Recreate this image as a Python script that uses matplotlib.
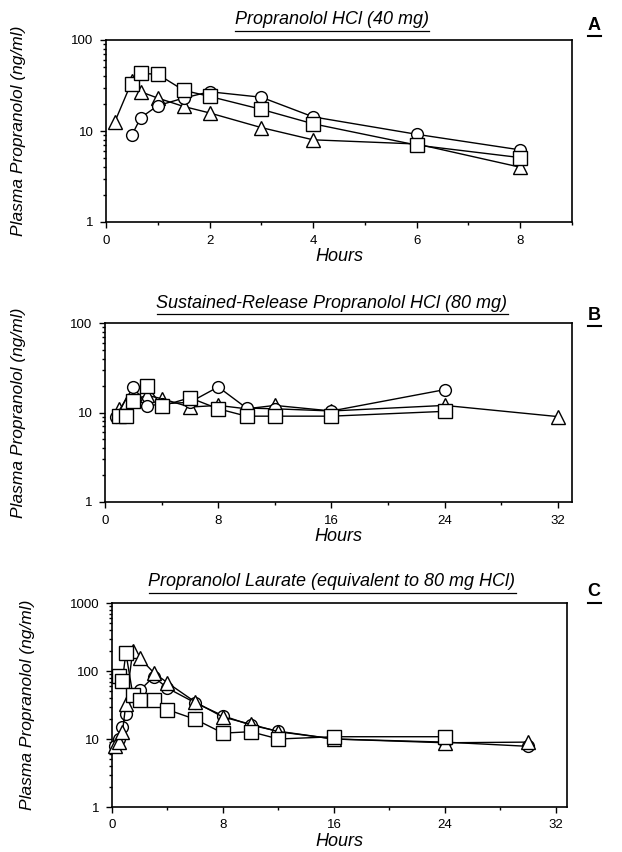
import matplotlib
matplotlib.use("Agg")
import matplotlib.pyplot as plt
from matplotlib.lines import Line2D
from matplotlib.ticker import LogLocator, FixedLocator, MultipleLocator, FuncFormatter

plt.rcParams['font.family'] = ['Liberation Sans', 'DejaVu Sans']

## Data (hours, ng/ml)
# A) Propranolol HCl 40 mg
a_circ_t = [0.5, 0.67, 1, 1.5, 2, 3, 4, 6, 8]
a_circ = [9.0, 14, 19, 23, 27, 23.5, 14.3, 9.2, 6.2]
a_sq_t = [0.5, 0.67, 1, 1.5, 2, 3, 4, 6, 8]
a_sq = [33, 43, 42, 28, 24, 17.3, 12, 7.0, 5.1]
a_tri_t = [0.17, 0.5, 0.67, 1, 1.5, 2, 3, 4, 6, 8]
a_tri = [12.6, 35, 27, 23, 18.6, 15.8, 10.9, 8.0, 7.2, 4.0]

# B) Sustained-release HCl 80 mg
b_circ_t = [0.75, 2, 3, 4, 6, 8, 10, 12, 16, 24]
b_circ = [9.0, 19.3, 11.8, 12.5, 13, 19.3, 11.2, 11, 10.4, 18]
b_sq_t = [1, 1.5, 2, 3, 4, 6, 8, 10, 12, 16, 24]
b_sq = [9.2, 9.2, 13.3, 19.7, 11.8, 14.6, 11, 9.1, 9.1, 9.1, 10.3]
b_tri_t = [1, 1.5, 2, 3, 4, 6, 8, 10, 12, 16, 24, 32]
b_tri = [11, 12.5, 14, 15.5, 14.3, 11.5, 12, 11, 12, 10.4, 12, 9.0]

# C) Laurate, equivalent to 80 mg HCl
c_circ_t = [0.25, 0.5, 0.75, 1, 1.5, 2, 3, 4, 6, 8, 10, 12, 16, 24, 30]
c_circ = [8.0, 10, 15, 23, 45, 52, 82, 56, 34, 22, 16, 13, 10, 9, 7.8]
c_tri_t = [0.25, 0.5, 0.75, 1, 1.5, 2, 3, 4, 6, 8, 10, 12, 16, 24, 30]
c_tri = [8.0, 9.0, 12.5, 33, 200, 155, 95, 67, 35, 21, 16.5, 12.8, 10, 8.8, 9.0]
c_sq_t = [0.5, 0.75, 1, 1.5, 2, 3, 4, 6, 8, 10, 12, 16, 24]
c_sq = [85, 72, 185, 45, 37, 37, 27, 19.5, 12.2, 12.8, 10, 10.8, 10.8]

titles = ["Propranolol HCl (40 mg)",
          "Sustained-Release Propranolol HCl (80 mg)",
          "Propranolol Laurate (equivalent to 80 mg HCl)"]
letters = ["A", "B", "C"]
x_ticks = [[0, 2, 4, 6, 8], [0, 8, 16, 24, 32], [0, 8, 16, 24, 32]]
x_lims = [(0, 9), (0, 33), (0, 32.8)]
y_lims = [(1, 100), (1, 100), (1, 1000)]

W, H = 622, 852
fig = plt.figure(figsize=(W / 100, H / 100), dpi=100)

# axes boxes in pixels: left, top, right, bottom
boxes = [(106, 40, 572, 222), (105, 323, 572, 502), (112, 603, 567, 807)]
title_y = [20, 303, 582]
letter_y = [25, 315, 592]
ylabel_x = [26, 26, 35]


def add_axes_px(l, t, r, b):
    return fig.add_axes([l / W, 1 - b / H, (r - l) / W, (b - t) / H])


def underline(txt, lw=0.9, pad=2):
    # draw a line under a figure text, using its rendered extent
    fig.canvas.draw()
    bb = txt.get_window_extent()
    y = (bb.y0 - pad) / H
    fig.add_artist(Line2D([bb.x0 / W, bb.x1 / W], [y, y],
                          transform=fig.transFigure, color='k', lw=lw))


series = [
    [(a_tri_t, a_tri, '^'), (a_circ_t, a_circ, 'o'), (a_sq_t, a_sq, 's')],
    [(b_tri_t, b_tri, '^'), (b_circ_t, b_circ, 'o'), (b_sq_t, b_sq, 's')],
    [(c_circ_t, c_circ, 'o'), (c_tri_t, c_tri, '^'), (c_sq_t, c_sq, 's')],
]
msize = {'o': 8.5, 's': 9.5, '^': 9.5}

for i in range(3):
    l, t, r, b = boxes[i]
    ax = add_axes_px(l, t, r, b)
    for z, (tt_, v, m) in enumerate(series[i]):
        ax.plot(tt_, v, color='k', lw=1.0, marker=m, ms=msize[m],
                mfc='white', mec='k', mew=1.0, zorder=3 + z, clip_on=False)
    ax.set_yscale('log')
    ax.set_xlim(*x_lims[i])
    ax.set_ylim(*y_lims[i])
    ax.xaxis.set_major_locator(FixedLocator(x_ticks[i]))
    ax.xaxis.set_minor_locator(MultipleLocator(x_ticks[i][1] / 2))
    ax.yaxis.set_major_locator(LogLocator(base=10))
    ax.yaxis.set_minor_locator(LogLocator(base=10, subs=range(2, 10)))
    ax.yaxis.set_major_formatter(FuncFormatter(lambda v, p: "%d" % round(v)))
    ax.tick_params(which='major', direction='out', length=4, width=1,
                   labelsize=9.5, pad=5)
    ax.tick_params(which='minor', direction='out', length=2.5, width=1)
    for s in ax.spines.values():
        s.set_linewidth(1.2)
    ax.set_xlabel("Hours", fontsize=13, fontstyle='italic', labelpad=1)
    ax.set_ylabel("Plasma Propranolol (ng/ml)", fontsize=12.5,
                  fontstyle='italic')
    ax.yaxis.set_label_coords((ylabel_x[i] - l) / (r - l), 0.5)
    tt = fig.text(332 / W, 1 - title_y[i] / H, titles[i],
                  ha='center', va='center', fontsize=13, fontstyle='italic')
    underline(tt)
    lt = fig.text(594 / W, 1 - letter_y[i] / H, letters[i],
                  ha='center', va='center', fontsize=13, fontweight='bold')
    underline(lt, lw=1.5, pad=2)

fig.savefig("out.png", dpi=100)
